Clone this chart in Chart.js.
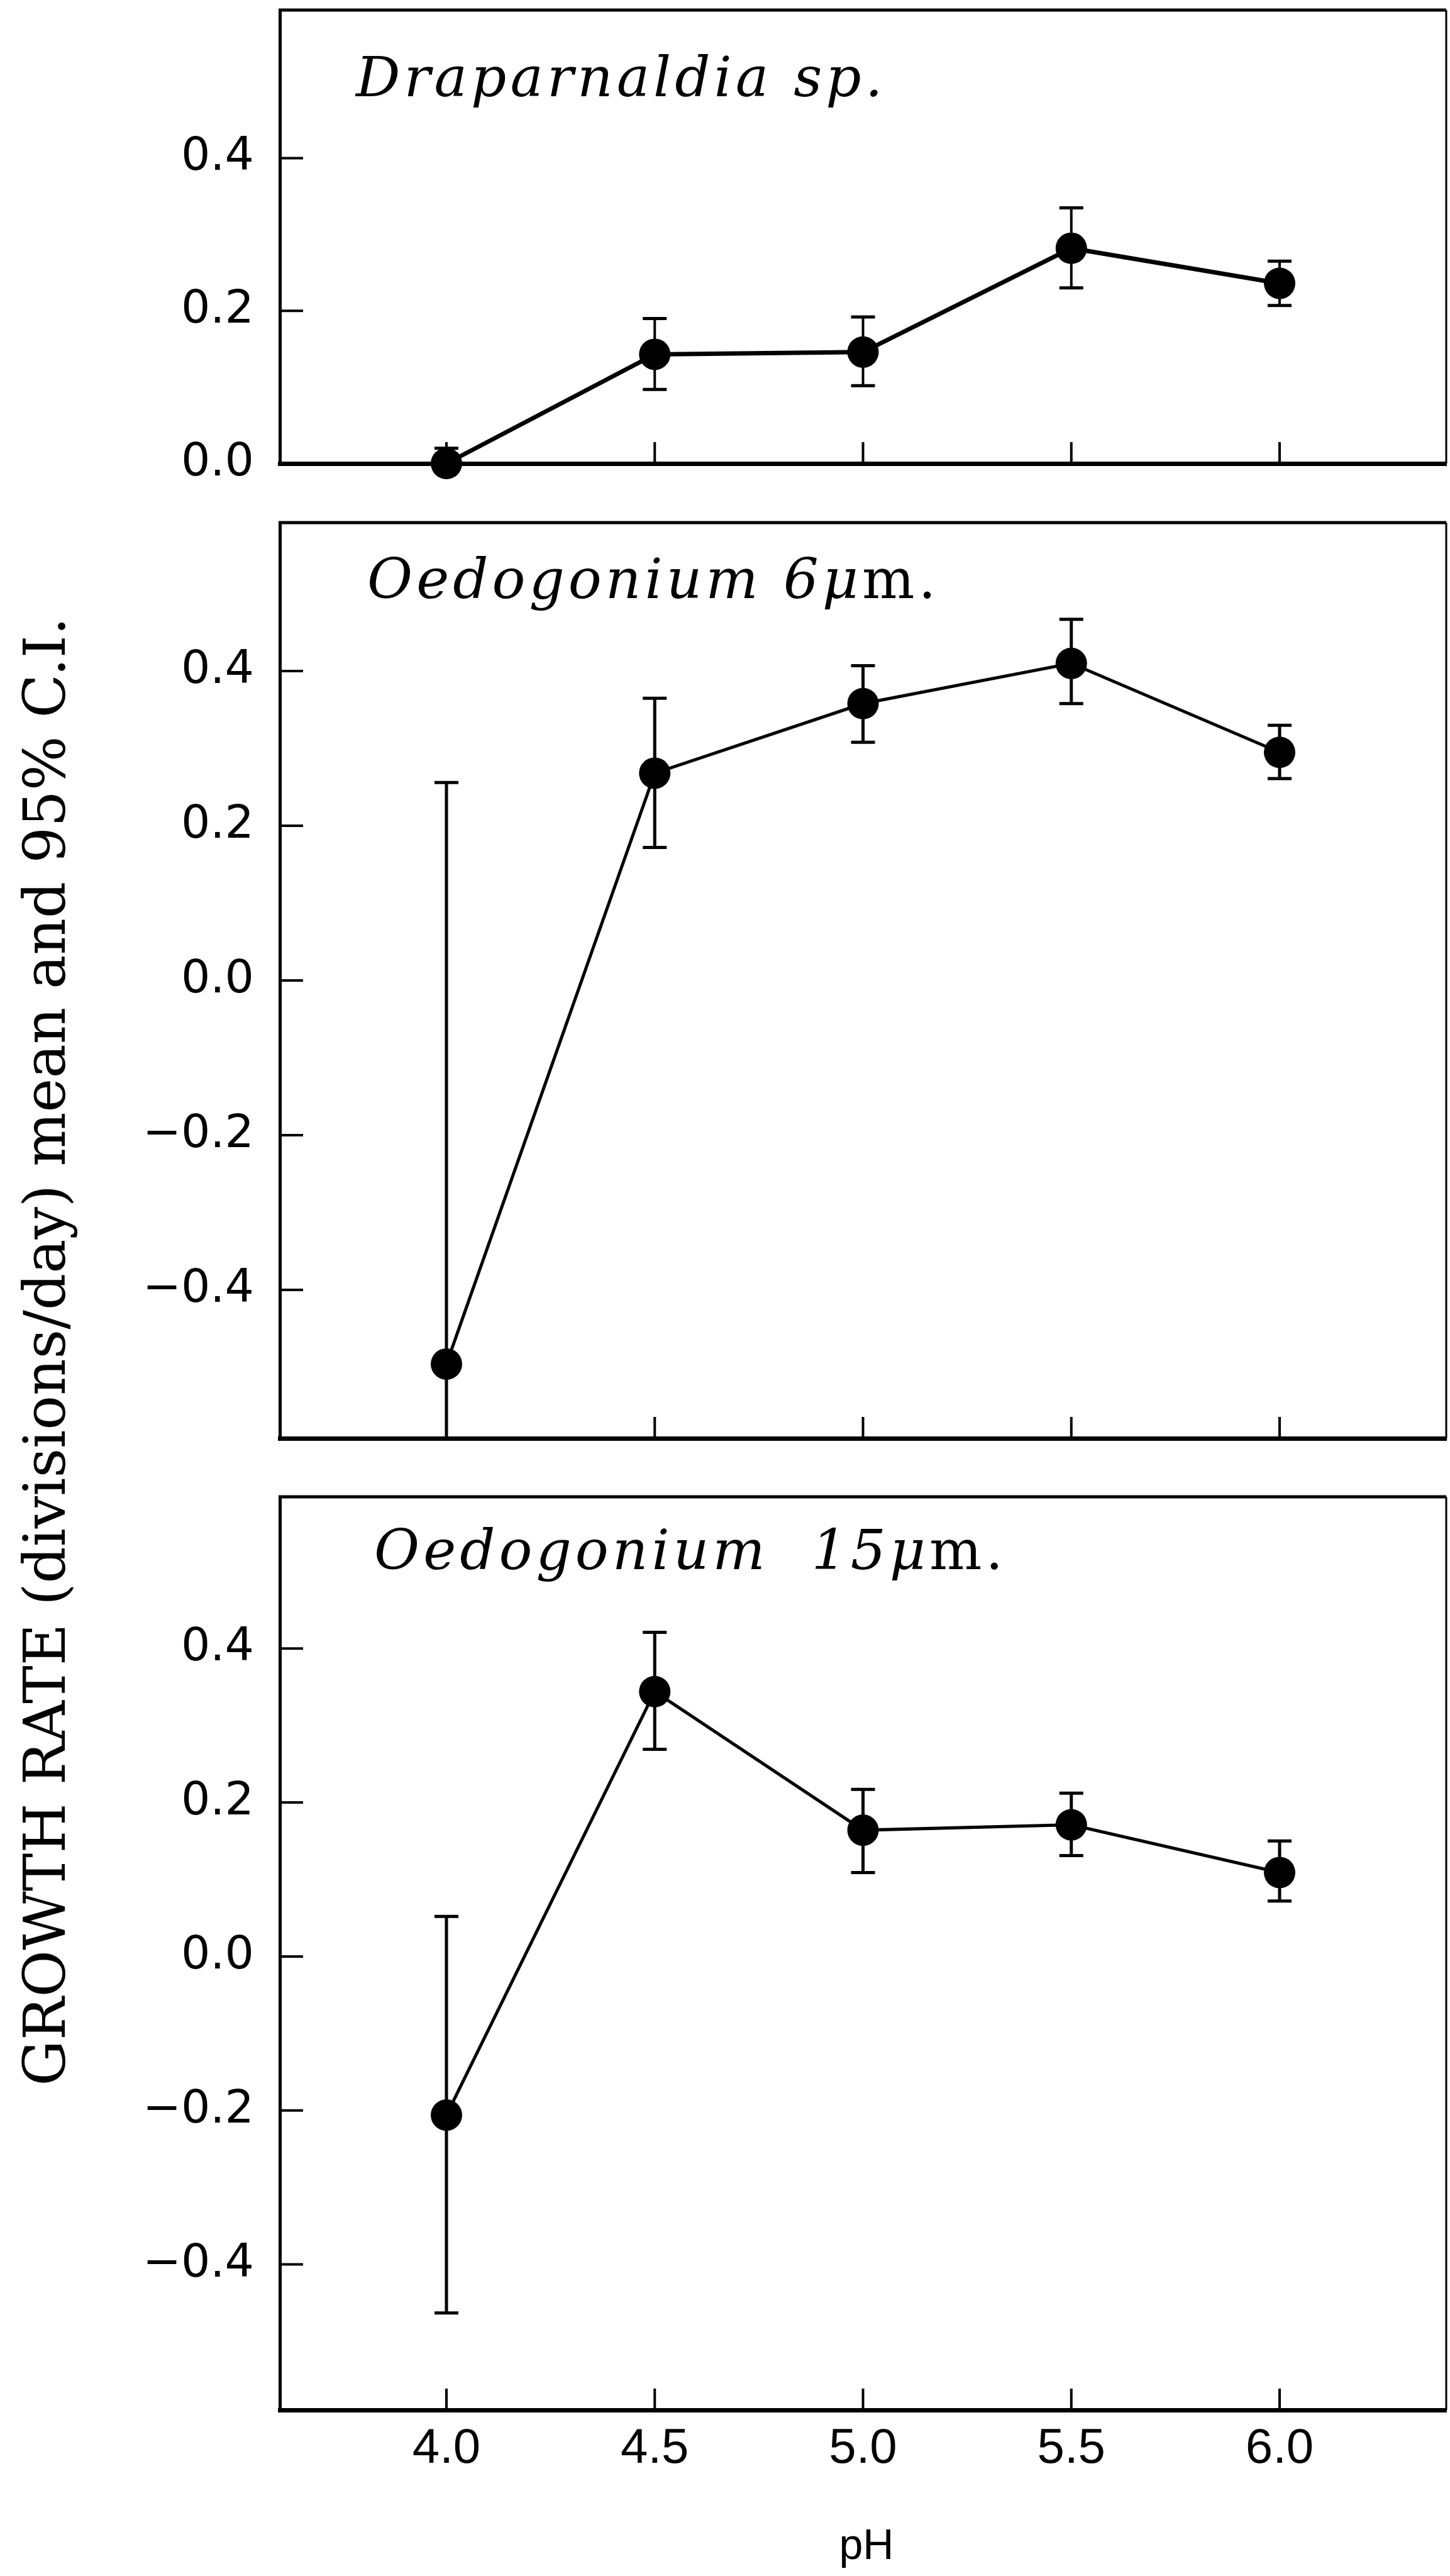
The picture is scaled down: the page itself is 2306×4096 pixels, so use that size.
<!DOCTYPE html>
<html>
<head>
<meta charset="utf-8">
<script src="https://cdn.jsdelivr.net/npm/chart.js@4.4.1/dist/chart.umd.min.js"></script>
<style>
  html, body { margin: 0; padding: 0; background: #fff; }
  #page { position: relative; width: 2306px; height: 4096px; overflow: hidden; background: #fff; }
  #page canvas { position: absolute; left: 0; top: 0; }
</style>
</head>
<body>
<div id="page">
  <canvas id="panelA" width="2306" height="4096"></canvas>
  <canvas id="panelB" width="2306" height="4096"></canvas>
  <canvas id="panelC" width="2306" height="4096"></canvas>
</div>
<script>
const W = 2306, H = 4096;

// pH treatments
const phLevels = [4.0, 4.5, 5.0, 5.5, 6.0];
const phLabels = ['4.0', '4.5', '5.0', '5.5', '6.0'];

// Draparnaldia sp. — growth rate mean and 95% C.I.
const drapMean = [0.000, 0.143, 0.146, 0.282, 0.236];
const drapLow  = [0.000, 0.097, 0.102, 0.230, 0.207];
const drapHigh = [0.020, 0.190, 0.192, 0.335, 0.265];

// Oedogonium 6 µm
const oed6Mean = [-0.496, 0.268, 0.358, 0.410, 0.295];
const oed6Low  = [-1.250, 0.172, 0.308, 0.358, 0.261];
const oed6High = [ 0.256, 0.365, 0.407, 0.467, 0.330];

// Oedogonium 15 µm
const oed15Mean = [-0.206, 0.344, 0.164, 0.171, 0.109];
const oed15Low  = [-0.463, 0.269, 0.109, 0.131, 0.072];
const oed15High = [ 0.052, 0.421, 0.217, 0.212, 0.150];

// y tick values
const shortTicks = [0.0, 0.2, 0.4];
const fullTicks = [-0.4, -0.2, 0.0, 0.2, 0.4];

const yTitle = 'GROWTH RATE (divisions/day) mean and 95% C.I.';
const xTitle = 'pH';

const PLOT_LEFT = 445;
const PLOT_RIGHT = 2300;

function fmtTick(v) {
  return (v < -1e-9 ? '\u2212' : '') + Math.abs(v).toFixed(1);
}

// vertical CI whiskers with caps, clipped to the plot box
function errorBars(low, high, stem) {
  return {
    id: 'errorBars',
    beforeDatasetsDraw(chart) {
      const {ctx, chartArea: a, scales: {x, y}} = chart;
      ctx.save();
      ctx.beginPath();
      ctx.rect(a.left, a.top, a.right - a.left, a.bottom - a.top);
      ctx.clip();
      ctx.strokeStyle = '#000';
      low.forEach((lo, i) => {
        const px = x.getPixelForValue(phLevels[i]);
        const yLo = y.getPixelForValue(lo);
        const yHi = y.getPixelForValue(high[i]);
        ctx.lineWidth = stem;
        ctx.beginPath();
        ctx.moveTo(px, yLo);
        ctx.lineTo(px, yHi);
        ctx.stroke();
        ctx.lineWidth = 5;
        [yLo, yHi].forEach(py => {
          ctx.beginPath();
          ctx.moveTo(px - 19, py);
          ctx.lineTo(px + 19, py);
          ctx.stroke();
        });
      });
      ctx.restore();
    }
  };
}

// top/right edges, inward tick marks and the species name
function panelFrame(p) {
  return {
    id: 'panelFrame',
    afterDraw(chart) {
      const {ctx, chartArea: a, scales: {x, y}} = chart;
      ctx.save();
      ctx.strokeStyle = '#000';
      ctx.lineCap = 'butt';
      ctx.lineWidth = 5;
      ctx.beginPath();
      ctx.moveTo(a.left - 2, a.top);
      ctx.lineTo(a.right, a.top);
      ctx.stroke();
      ctx.lineWidth = 3;
      ctx.beginPath();
      ctx.moveTo(a.right, a.top);
      ctx.lineTo(a.right, a.bottom);
      ctx.stroke();

      ctx.lineWidth = 4;
      p.yTicks.forEach(v => {
        const py = y.getPixelForValue(v);
        ctx.beginPath();
        ctx.moveTo(a.left, py);
        ctx.lineTo(a.left + 37, py);
        ctx.stroke();
      });
      phLevels.forEach(v => {
        const px = x.getPixelForValue(v);
        ctx.beginPath();
        ctx.moveTo(px, a.bottom);
        ctx.lineTo(px, a.bottom - 34);
        ctx.stroke();
      });

      ctx.fillStyle = '#000';
      ctx.textAlign = 'left';
      ctx.textBaseline = 'alphabetic';
      ctx.letterSpacing = '6px';
      let tx = p.labelX;
      p.label.forEach(seg => {
        ctx.font = (seg.italic ? 'italic ' : '') + '88px "DejaVu Serif"';
        ctx.fillText(seg.text, tx, p.labelY);
        tx += ctx.measureText(seg.text).width;
      });
      ctx.restore();
    }
  };
}

// shared axis titles
const pageTitles = {
  id: 'pageTitles',
  afterDraw(chart) {
    const ctx = chart.ctx;
    ctx.save();
    ctx.fillStyle = '#000';
    ctx.translate(103, 2149);
    ctx.rotate(-Math.PI / 2);
    ctx.textAlign = 'center';
    ctx.textBaseline = 'alphabetic';
    ctx.font = '91px "DejaVu Serif"';
    ctx.fillText(yTitle, 0, 0);
    ctx.restore();

    ctx.save();
    ctx.fillStyle = '#000';
    ctx.textAlign = 'center';
    ctx.textBaseline = 'alphabetic';
    ctx.font = '68px "Liberation Sans"';
    ctx.fillText(xTitle, 1378, 4069);
    ctx.restore();
  }
};

function drawPanel(id, p) {
  const extra = [errorBars(p.low, p.high, p.stem), panelFrame(p)];
  if (p.showX) extra.push(pageTitles);
  return new Chart(document.getElementById(id), {
    type: 'line',
    data: {
      datasets: [{
        data: phLevels.map((v, i) => ({x: v, y: p.mean[i]})),
        borderColor: '#000',
        borderWidth: p.lineWidth,
        pointRadius: 25,
        pointBackgroundColor: '#000',
        pointBorderWidth: 0,
        pointHoverRadius: 25,
        tension: 0,
        fill: false,
        clip: false
      }]
    },
    options: {
      responsive: false,
      animation: false,
      devicePixelRatio: 1,
      events: [],
      layout: {
        autoPadding: false,
        padding: {top: p.top, right: W - PLOT_RIGHT, left: 0, bottom: 0}
      },
      plugins: {legend: {display: false}, tooltip: {enabled: false}},
      scales: {
        x: {
          type: 'linear',
          min: 3.6,
          max: 6.4,
          afterBuildTicks: s => { s.ticks = phLevels.map(v => ({value: v})); },
          afterFit: s => {
            s.height = H - p.bottom;
            s.paddingLeft = 0;
            s.paddingRight = 0;
          },
          grid: {display: false, drawTicks: false},
          border: {display: true, color: '#000', width: 7},
          ticks: {
            display: p.showX,
            padding: 16,
            color: '#000',
            font: {family: 'Liberation Sans', size: 78},
            maxRotation: 0,
            callback: (v, i) => phLabels[i]
          }
        },
        y: {
          type: 'linear',
          min: p.yMin,
          max: p.yMax,
          afterBuildTicks: s => { s.ticks = p.yTicks.map(v => ({value: v})); },
          afterFit: s => {
            s.width = PLOT_LEFT;
            s.paddingTop = 0;
            s.paddingBottom = 0;
          },
          grid: {display: false, drawTicks: false},
          border: {display: true, color: '#000', width: 5},
          ticks: {
            padding: 41,
            color: '#000',
            font: {family: 'DejaVu Sans', size: 73},
            callback: v => fmtTick(v)
          }
        }
      }
    },
    plugins: extra
  });
}

drawPanel('panelA', {
  mean: drapMean, low: drapLow, high: drapHigh,
  top: 16, bottom: 737, yMin: 0, yMax: 0.594, yTicks: shortTicks,
  lineWidth: 7, stem: 4, showX: false,
  labelX: 566, labelY: 153,
  label: [{text: 'Draparnaldia sp.', italic: true}]
});

drawPanel('panelB', {
  mean: oed6Mean, low: oed6Low, high: oed6High,
  top: 831, bottom: 2287, yMin: -0.592, yMax: 0.592, yTicks: fullTicks,
  lineWidth: 5, stem: 5, showX: false,
  labelX: 584, labelY: 951,
  label: [{text: 'Oedogonium 6\u03bc', italic: true}, {text: 'm.', italic: false}]
});

drawPanel('panelC', {
  mean: oed15Mean, low: oed15Low, high: oed15High,
  top: 2380, bottom: 3832, yMin: -0.589, yMax: 0.597, yTicks: fullTicks,
  lineWidth: 5, stem: 5, showX: true,
  labelX: 595, labelY: 2495,
  label: [{text: 'Oedogonium  15\u03bc', italic: true}, {text: 'm.', italic: false}]
});
</script>
</body>
</html>
